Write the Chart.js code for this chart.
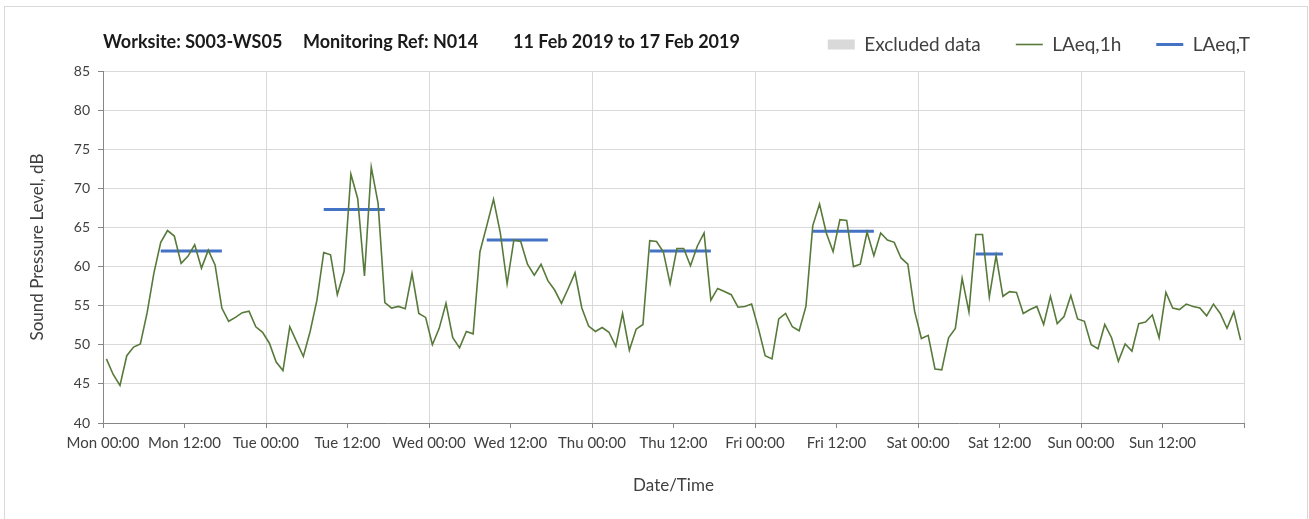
<!DOCTYPE html>
<html>
<head>
<meta charset="utf-8">
<script src="https://cdn.jsdelivr.net/npm/chart.js@4.4.1/dist/chart.umd.min.js"></script>
<style>
    body { margin: 0; background: #fff; }
    #wrap { position: relative; width: 1309px; height: 519px; }
    #frame { position: absolute; left: 4px; top: 6px; width: 1302px; height: 530px; border: 1px solid #d9d9d9; pointer-events: none; }
    .ttl { position: absolute; top: 30px; font: bold 18px Lato, sans-serif; color: #1a1a1a; white-space: nowrap; }
</style>
</head>
<body>
<div id="wrap">
    <canvas id="noiseChart"></canvas>
    <div class="ttl" style="left:103px">Worksite: S003-WS05</div>
    <div class="ttl" style="left:303px">Monitoring Ref: N014</div>
    <div class="ttl" style="left:513px">11 Feb 2019 to 17 Feb 2019</div>
    <div id="frame"></div>
</div>
<script>
// x 축 눈금 (12시간 간격, 0 ~ 168시간)
const tickLabels = [
    'Mon 00:00', 'Mon 12:00', 'Tue 00:00', 'Tue 12:00', 'Wed 00:00', 'Wed 12:00',
    'Thu 00:00', 'Thu 12:00', 'Fri 00:00', 'Fri 12:00', 'Sat 00:00', 'Sat 12:00',
    'Sun 00:00', 'Sun 12:00', ''
];

// LAeq,1h - 1시간 값 (월 00:00 부터 168개)
const laeq1h = [
    // Mon
    48.2, 46.2, 44.8, 48.6, 49.7, 50.1, 54.1, 59.2, 63.1, 64.6, 63.9, 60.4,
    61.3, 62.8, 59.8, 62.1, 60.2, 54.7, 53.0, 53.5, 54.1, 54.3, 52.3, 51.6,
    // Tue
    50.2, 47.8, 46.7, 52.3, 50.4, 48.5, 51.7, 55.7, 61.8, 61.5, 56.4, 59.4,
    71.8, 68.7, 58.8, 72.7, 68.1, 55.4, 54.7, 54.9, 54.6, 59.1, 54.0, 53.5,
    // Wed
    50.0, 52.1, 55.3, 50.9, 49.6, 51.7, 51.4, 61.9, 65.2, 68.6, 64.3, 57.8,
    63.4, 63.2, 60.3, 58.9, 60.3, 58.2, 57.0, 55.3, 57.2, 59.2, 54.7, 52.4,
    // Thu
    51.7, 52.2, 51.6, 49.8, 54.0, 49.3, 52.0, 52.6, 63.3, 63.2, 61.9, 57.8,
    62.3, 62.3, 60.1, 62.6, 64.3, 55.7, 57.2, 56.8, 56.4, 54.8, 54.9, 55.2,
    // Fri
    52.1, 48.6, 48.2, 53.3, 54.0, 52.3, 51.8, 54.9, 65.2, 68.0, 64.3, 61.9,
    66.0, 65.9, 60.0, 60.3, 64.4, 61.4, 64.3, 63.4, 63.1, 61.1, 60.3, 54.3,
    // Sat
    50.8, 51.2, 46.9, 46.8, 50.9, 52.1, 58.5, 54.2, 64.1, 64.1, 56.1, 61.4,
    56.2, 56.8, 56.7, 54.0, 54.5, 54.9, 52.6, 56.2, 52.7, 53.6, 56.3, 53.3,
    // Sun
    53.0, 50.0, 49.5, 52.6, 50.9, 47.9, 50.1, 49.2, 52.7, 52.9, 53.8, 50.9,
    56.7, 54.7, 54.5, 55.2, 54.9, 54.7, 53.7, 55.2, 54.0, 52.1, 54.2, 50.6
];

// LAeq,T - 주간 평가 구간 (시작/끝 시간, 값)
const laeqTStart = [8.5, 32.5, 56.5, 80.5, 104.5, 128.5];
const laeqTEnd = [17.5, 41.5, 65.5, 89.5, 113.5, 132.5];
const laeqTValue = [62.0, 67.3, 63.4, 62.0, 64.5, 61.6];

const FONT = 'Lato, sans-serif';
const TEXT_COLOR = '#404040';

function buildHourly() {
    return laeq1h.map((v, i) => ({ x: i + 0.5, y: v }));
}

function buildPeriods() {
    const pts = [];
    laeqTValue.forEach((v, i) => {
        pts.push({ x: laeqTStart[i], y: v });
        pts.push({ x: laeqTEnd[i], y: v });
        pts.push({ x: laeqTEnd[i] + 1, y: null }); // 끊기
    });
    return pts;
}

// 범례 높이 고정 (plot area top = 71px)
const legendHeightPlugin = {
    id: 'legendHeight',
    afterInit(chart) {
        const lg = chart.legend;
        if (!lg) return;
        const fit = lg.fit;
        lg.fit = function () {
            fit.call(this);
            this.height = 71;
        };
    }
};

function drawChart() {
    const ctx = document.getElementById('noiseChart').getContext('2d');

    const config = {
        type: 'line',
        data: {
            datasets: [
                {
                    label: 'Excluded data',
                    data: [],
                    backgroundColor: '#d9d9d9',
                    borderColor: '#d9d9d9'
                },
                {
                    label: 'LAeq,1h',
                    data: buildHourly(),
                    borderColor: '#577a3a',
                    borderWidth: 1.6,
                    pointRadius: 0,
                    tension: 0
                },
                {
                    label: 'LAeq,T',
                    data: buildPeriods(),
                    borderColor: '#4472c4',
                    borderWidth: 3,
                    pointRadius: 0,
                    spanGaps: false
                }
            ]
        },
        options: {
            responsive: true,
            maintainAspectRatio: false,
            animation: false,
            layout: { padding: { left: 0, right: 24, top: 0, bottom: 0 } },
            scales: {
                x: {
                    type: 'linear',
                    min: 0,
                    max: 168,
                    afterFit: (scale) => { scale.height = 96; },
                    afterBuildTicks: (scale) => {
                        scale.ticks = tickLabels.map((t, i) => ({ value: i * 12 }));
                    },
                    ticks: {
                        autoSkip: false,
                        maxRotation: 0,
                        padding: 6,
                        color: TEXT_COLOR,
                        font: { family: FONT, size: 15 },
                        callback: (value) => tickLabels[Math.round(value / 12)]
                    },
                    grid: {
                        color: (c) => (c.tick && c.tick.value % 24 === 0 ? '#d9d9d9' : 'rgba(0,0,0,0)'),
                        tickColor: '#868686',
                        tickLength: 5,
                        lineWidth: 1
                    },
                    border: { color: '#868686', width: 1 },
                    title: {
                        display: true,
                        text: 'Date/Time',
                        color: TEXT_COLOR,
                        font: { family: FONT, size: 17 },
                        padding: { top: 0, bottom: 23 }
                    }
                },
                y: {
                    min: 40,
                    max: 85,
                    afterFit: (scale) => { scale.width = 103; },
                    ticks: {
                        stepSize: 5,
                        padding: 8,
                        color: TEXT_COLOR,
                        font: { family: FONT, size: 14 }
                    },
                    grid: {
                        color: '#d9d9d9',
                        tickColor: '#868686',
                        tickLength: 5
                    },
                    border: { color: '#868686', width: 1 },
                    title: {
                        display: true,
                        text: 'Sound Pressure Level, dB',
                        color: TEXT_COLOR,
                        font: { family: FONT, size: 17 },
                        padding: { top: 27, bottom: 0 }
                    }
                },
                y2: {
                    position: 'right',
                    display: true,
                    afterFit: (scale) => { scale.width = 41; },
                    grid: { display: false },
                    ticks: { display: false },
                    border: { display: false }
                }
            },
            plugins: {
                legend: {
                    position: 'top',
                    align: 'end',
                    labels: {
                        usePointStyle: true,
                        pointStyleWidth: 27,
                        boxHeight: 10,
                        padding: 35,
                        color: TEXT_COLOR,
                        font: { family: FONT, size: 19 },
                        generateLabels: (chart) => chart.data.datasets.map((ds, i) => ({
                            text: ds.label,
                            datasetIndex: i,
                            fillStyle: ds.backgroundColor || ds.borderColor,
                            strokeStyle: ds.borderColor,
                            lineWidth: i === 0 ? 0 : (i === 1 ? 1.6 : 3),
                            pointStyle: i === 0 ? 'rect' : 'line',
                            fontColor: TEXT_COLOR,
                            hidden: false
                        }))
                    }
                },
                title: { display: false },
                tooltip: { enabled: false }
            }
        },
        plugins: [legendHeightPlugin]
    };

    new Chart(ctx, config);
}

document.addEventListener('DOMContentLoaded', () => {
    drawChart();
});
</script>
</body>
</html>
